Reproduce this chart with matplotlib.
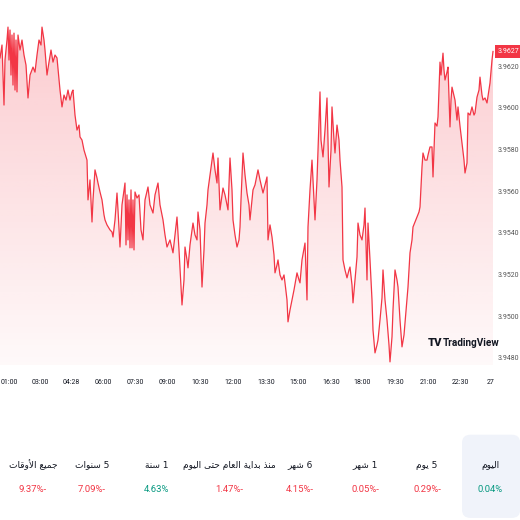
import numpy as np
import matplotlib
matplotlib.use("Agg")
from matplotlib import pyplot as plt
from matplotlib.patches import FancyBboxPatch
from matplotlib.transforms import blended_transform_factory, ScaledTranslation

# bar index (one bar per step on the time axis) and price
bars = [0, 2, 4, 5, 7, 8, 9, 10, 11, 12, 13, 14, 15, 16, 17, 18, 20, 22, 24, 26, 28, 30, 33, 35, 37, 39,
        41, 42, 44, 45, 47, 49, 51, 53, 55, 57, 59, 60, 62, 64, 66, 68, 70, 72, 73, 75, 77, 79, 80, 82,
        84, 87, 88, 90, 92, 93, 95, 97, 98, 100, 102, 104, 105, 107, 110, 112, 113, 115, 117, 118, 120,
        122, 124, 125, 126, 127, 128, 129, 130, 131, 132, 133, 134, 135, 137, 139, 141, 143, 145, 148,
        150, 153, 155, 158, 160, 163, 165, 167, 170, 173, 175, 177, 179, 182, 184, 185, 187, 188, 190,
        193, 195, 197, 198, 200, 202, 204, 205, 207, 208, 210, 213, 215, 217, 218, 219, 220, 222, 223,
        225, 228, 229, 230, 232, 233, 235, 237, 239, 240, 241, 243, 245, 247, 249, 250, 252, 253, 255,
        258, 260, 263, 265, 267, 268, 270, 272, 274, 275, 277, 278, 280, 282, 284, 285, 287, 288, 290,
        292, 294, 297, 299, 300, 302, 305, 306, 307, 308, 310, 312, 314, 315, 317, 320, 321, 323, 325,
        327, 328, 329, 331, 332, 334, 335, 337, 339, 340, 342, 343, 345, 347, 349, 350, 352, 353, 355,
        357, 358, 360, 362, 364, 365, 367, 368, 370, 372, 373, 375, 377, 378, 380, 382, 383, 385, 387,
        389, 390, 392, 393, 395, 397, 398, 400, 402, 404, 405, 407, 408, 410, 412, 413, 415, 417, 419,
        420, 422, 423, 425, 427, 428, 430, 432, 433, 435, 437, 438, 440, 441, 443, 444, 445, 447, 448,
        450, 451, 452, 455, 457, 458, 460, 462, 464, 465, 467, 468, 470, 472, 474, 475, 477, 479, 480,
        482, 483, 485, 487, 489, 490, 492, 493]
price = [3.96239, 3.96301, 3.96013, 3.96229, 3.96325, 3.96387, 3.96229, 3.96373, 3.96157, 3.96349,
         3.96109, 3.96358, 3.96085, 3.96325, 3.96076, 3.96349, 3.96277, 3.96325, 3.96253, 3.96205,
         3.96047, 3.96157, 3.96195, 3.96171, 3.96253, 3.96325, 3.96301, 3.96387, 3.96325, 3.96277,
         3.96157, 3.96219, 3.96277, 3.96219, 3.96253, 3.96239, 3.96133, 3.96085, 3.96004, 3.96061,
         3.96037, 3.96085, 3.96037, 3.96076, 3.96085, 3.95965, 3.95893, 3.95917, 3.95860, 3.95845,
         3.95797, 3.95749, 3.95558, 3.95654, 3.95452, 3.95558, 3.95702, 3.95663, 3.95639, 3.95596,
         3.95558, 3.95486, 3.95462, 3.95438, 3.95414, 3.95404, 3.95380, 3.95462, 3.95591, 3.95510,
         3.95332, 3.95534, 3.95606, 3.95639, 3.95342, 3.95582, 3.95366, 3.95558, 3.95328, 3.95606,
         3.95328, 3.95558, 3.95318, 3.95596, 3.95567, 3.95582, 3.95414, 3.95366, 3.95558, 3.95620,
         3.95534, 3.95495, 3.95582, 3.95639, 3.95534, 3.95462, 3.95390, 3.95332, 3.95366, 3.95304,
         3.95390, 3.95476, 3.95318, 3.95054, 3.95174, 3.95332, 3.95270, 3.95232, 3.95342, 3.95447,
         3.95390, 3.95366, 3.95500, 3.95414, 3.95140, 3.95318, 3.95447, 3.95534, 3.95606, 3.95678,
         3.95783, 3.95702, 3.95639, 3.95759, 3.95630, 3.95510, 3.95582, 3.95615, 3.95582, 3.95510,
         3.95630, 3.95759, 3.95606, 3.95462, 3.95390, 3.95332, 3.95366, 3.95428, 3.95558, 3.95783,
         3.95678, 3.95591, 3.95534, 3.95462, 3.95558, 3.95606, 3.95630, 3.95702, 3.95654, 3.95591,
         3.95630, 3.95668, 3.95366, 3.95438, 3.95380, 3.95294, 3.95208, 3.95246, 3.95270, 3.95198,
         3.95174, 3.95198, 3.95160, 3.95078, 3.94973, 3.95030, 3.95078, 3.95126, 3.95208, 3.95174,
         3.95160, 3.95270, 3.95351, 3.95222, 3.95078, 3.95428, 3.95606, 3.95749, 3.95558, 3.95462,
         3.95654, 3.96076, 3.95845, 3.95764, 3.95893, 3.96047, 3.95845, 3.95620, 3.95797, 3.96004,
         3.95845, 3.95783, 3.95917, 3.95845, 3.95749, 3.95620, 3.95270, 3.95222, 3.95184, 3.95222,
         3.95236, 3.95150, 3.95064, 3.95174, 3.95284, 3.95447, 3.95390, 3.95366, 3.95438, 3.95519,
         3.95174, 3.95447, 3.95270, 3.95078, 3.94934, 3.94824, 3.94862, 3.94886, 3.94982, 3.95088,
         3.95222, 3.95078, 3.94982, 3.94862, 3.94781, 3.94901, 3.95030, 3.95222, 3.95174, 3.95140,
         3.94982, 3.94853, 3.94910, 3.94968, 3.95078, 3.95140, 3.95304, 3.95366, 3.95428, 3.95452,
         3.95476, 3.95500, 3.95524, 3.95716, 3.95783, 3.95749, 3.95749, 3.95773, 3.95812, 3.95812,
         3.95668, 3.95927, 3.95912, 3.95956, 3.96219, 3.96157, 3.96262, 3.96181, 3.96133, 3.96171,
         3.96195, 3.95908, 3.96037, 3.96099, 3.96037, 3.95941, 3.96004, 3.95912, 3.95831, 3.95749,
         3.95687, 3.95735, 3.95975, 3.95965, 3.96004, 3.95965, 3.95975, 3.96051, 3.96085, 3.96147,
         3.96061, 3.96037, 3.96047, 3.96023, 3.96085, 3.96119, 3.96229, 3.9627]

tick_bars = [7, 40, 71, 103, 135, 167, 200, 233, 266, 298, 331, 362, 395, 428, 460, 491]
tick_labels = ["01:00", "03:00", "04:28", "06:00", "07:30", "09:00", "10:30", "12:00",
               "13:30", "15:00", "16:30", "18:00", "19:30", "21:00", "22:30", "27"]
price_ticks = [3.9480, 3.9500, 3.9520, 3.9540, 3.9560, 3.9580, 3.9600, 3.9620]
last_price = 3.9627

periods = ["جميع الأوقات", "5 سنوات", "1 سنة", "منذ بداية العام حتى اليوم",
           "6 شهر", "1 شهر", "5 يوم", "اليوم"]
changes = ["9.37%-", "7.09%-", "4.63%", "1.47%-", "4.15%-", "0.05%-", "0.29%-", "0.04%"]
change_up = [False, False, True, False, False, False, False, True]

RED = "#f23645"
GREEN = "#089981"
TEXT = "#131722"
NUM_FONT = ["Roboto", "DejaVu Sans"]

# Arabic letter forms: isolated, final, initial, medial
FORMS = {
    "ا": ("\uFE8D", "\uFE8E", None, None),
    "أ": ("\uFE83", "\uFE84", None, None),
    "ب": ("\uFE8F", "\uFE90", "\uFE91", "\uFE92"),
    "ة": ("\uFE93", "\uFE94", None, None),
    "ت": ("\uFE95", "\uFE96", "\uFE97", "\uFE98"),
    "ج": ("\uFE9D", "\uFE9E", "\uFE9F", "\uFEA0"),
    "ح": ("\uFEA1", "\uFEA2", "\uFEA3", "\uFEA4"),
    "د": ("\uFEA9", "\uFEAA", None, None),
    "ذ": ("\uFEAB", "\uFEAC", None, None),
    "ر": ("\uFEAD", "\uFEAE", None, None),
    "س": ("\uFEB1", "\uFEB2", "\uFEB3", "\uFEB4"),
    "ش": ("\uFEB5", "\uFEB6", "\uFEB7", "\uFEB8"),
    "ع": ("\uFEC9", "\uFECA", "\uFECB", "\uFECC"),
    "ق": ("\uFED5", "\uFED6", "\uFED7", "\uFED8"),
    "ل": ("\uFEDD", "\uFEDE", "\uFEDF", "\uFEE0"),
    "م": ("\uFEE1", "\uFEE2", "\uFEE3", "\uFEE4"),
    "ن": ("\uFEE5", "\uFEE6", "\uFEE7", "\uFEE8"),
    "ه": ("\uFEE9", "\uFEEA", "\uFEEB", "\uFEEC"),
    "و": ("\uFEED", "\uFEEE", None, None),
    "ى": ("\uFEEF", "\uFEF0", None, None),
    "ي": ("\uFEF1", "\uFEF2", "\uFEF3", "\uFEF4"),
}
LAM_ALEF = {"ا": ("\uFEFB", "\uFEFC"), "أ": ("\uFEF7", "\uFEF8")}


def shape_ar(s):
    out = []
    i = 0
    while i < len(s):
        ch = s[i]
        if ch not in FORMS:
            out.append(ch)
            i += 1
            continue
        prev = s[i - 1] if i > 0 else ""
        joins_prev = prev in FORMS and FORMS[prev][2] is not None
        nxt = s[i + 1] if i + 1 < len(s) else ""
        if ch == "ل" and nxt in LAM_ALEF:
            out.append(LAM_ALEF[nxt][1 if joins_prev else 0])
            i += 2
            continue
        joins_next = nxt in FORMS and FORMS[ch][2] is not None
        iso, fin, ini, med = FORMS[ch]
        if joins_prev and joins_next:
            out.append(med)
        elif joins_prev:
            out.append(fin)
        elif joins_next:
            out.append(ini)
        else:
            out.append(iso)
        i += 1
    return "".join(out)[::-1]


fig = plt.figure(figsize=(5.2, 5.2), dpi=100)
fig.patch.set_facecolor("white")
ax = fig.add_axes([0, 1 - 365 / 520, 494 / 520, 345 / 520])
ymin, ymax = 3.94766, 3.96421
ax.set_xlim(0, 494)
ax.set_ylim(ymin, ymax)

# gradient area under the line
grad = np.zeros((256, 1, 4))
grad[:, 0, 0] = 242 / 255
grad[:, 0, 1] = 54 / 255
grad[:, 0, 2] = 69 / 255
grad[:, 0, 3] = np.linspace(0.26, 0.03, 256)
img = ax.imshow(grad, extent=[0, 494, ymin, ymax], aspect="auto", origin="upper", zorder=1)
area = ax.fill_between(bars, price, ymin, color="none", lw=0)
img.set_clip_path(area.get_paths()[0], transform=ax.transData)

ax.plot(bars, price, color=RED, lw=0.9, zorder=3)

for s in ax.spines.values():
    s.set_visible(False)
ax.set_xticks(tick_bars)
ax.set_xticklabels(tick_labels)
ax.yaxis.tick_right()
ax.set_yticks(price_ticks)
ax.set_yticklabels(["%.4f" % p for p in price_ticks])
ax.tick_params(axis="x", length=0, pad=10, labelsize=5, labelcolor=TEXT)
ax.tick_params(axis="y", length=0, pad=2.5, labelsize=5, labelcolor="#555555")
for lab in ax.get_xticklabels() + ax.get_yticklabels():
    lab.set_family(NUM_FONT)
# first time label sits flush with the left edge
first = ax.get_xticklabels()[0]
first.set_ha("left")
first.set_transform(first.get_transform() + ScaledTranslation(-6 / 100, 0, fig.dpi_scale_trans))

# last price tag
tr = blended_transform_factory(ax.transAxes, ax.transData)
ax.text(1.007, last_price, "%.4f" % last_price, transform=tr, ha="left", va="center",
        fontsize=5, color="white", zorder=10, clip_on=False, family=NUM_FONT,
        bbox=dict(boxstyle="square,pad=0.4", fc=RED, ec="none"))

# watermark
fig.text(428 / 520, 1 - 343 / 520, "TV", fontsize=8, fontweight="black", color=TEXT,
         ha="left", va="center", family="Roboto")
fig.text(443 / 520, 1 - 343 / 520, "TradingView", fontsize=7.2, fontweight="bold", color=TEXT,
         ha="left", va="center", family="Roboto")

# period performance strip
fig.patches.append(FancyBboxPatch((462 / 520, 0.004), 0.112, 0.16,
                                  boxstyle="round,pad=0,rounding_size=0.016",
                                  transform=fig.transFigure, fc="#f0f3fa", ec="none", zorder=0))
col_x = [33, 92, 157, 229, 300, 365, 427, 490]
for cx, name, val, up in zip(col_x, periods, changes, change_up):
    fig.text(cx / 520, 1 - 465 / 520, shape_ar(name), fontsize=6.5, color=TEXT,
             ha="center", va="center", family="DejaVu Sans")
    fig.text(cx / 520, 1 - 490 / 520, val, fontsize=6.8, color=GREEN if up else RED,
             ha="center", va="center", family=NUM_FONT)

fig.savefig("out.png", dpi=100)
